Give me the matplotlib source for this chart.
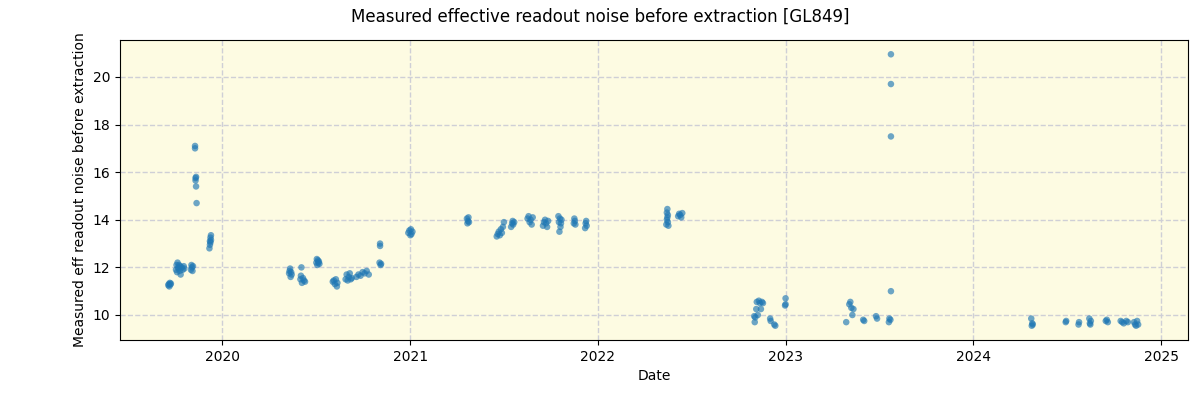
import matplotlib
matplotlib.use("Agg")
import matplotlib.pyplot as plt
import matplotlib.dates as mdates
import pandas as pd

dates = [
    # 2019
    "2019-09-18", "2019-09-19", "2019-09-20", "2019-09-21", "2019-09-22", "2019-09-23",
    "2019-10-03", "2019-10-04", "2019-10-05", "2019-10-06", "2019-10-07", "2019-10-08", "2019-10-09",
    "2019-10-10", "2019-10-11", "2019-10-12", "2019-10-14", "2019-10-16", "2019-10-18", "2019-10-19",
    "2019-11-01", "2019-11-02", "2019-11-03", "2019-11-04", "2019-11-05",
    "2019-11-09", "2019-11-09", "2019-11-10", "2019-11-10", "2019-11-11", "2019-11-11", "2019-11-12",
    "2019-12-07", "2019-12-08", "2019-12-08", "2019-12-09", "2019-12-09", "2019-12-10", "2019-12-10",
    # 2020
    "2020-05-10", "2020-05-11", "2020-05-12", "2020-05-13", "2020-05-14", "2020-05-15",
    "2020-06-01", "2020-06-02", "2020-06-03", "2020-06-04", "2020-06-06", "2020-06-08", "2020-06-10",
    "2020-07-02", "2020-07-03", "2020-07-04", "2020-07-05", "2020-07-06", "2020-07-07", "2020-07-08",
    "2020-08-03", "2020-08-05", "2020-08-07", "2020-08-09", "2020-08-11", "2020-08-12",
    "2020-08-28", "2020-08-30", "2020-09-01", "2020-09-03", "2020-09-05", "2020-09-07", "2020-09-09",
    "2020-09-18", "2020-09-22", "2020-09-26", "2020-09-30", "2020-10-04", "2020-10-08", "2020-10-12",
    "2020-11-02", "2020-11-03", "2020-11-03", "2020-11-04", "2020-11-05",
    "2020-12-28", "2020-12-30", "2021-01-01", "2021-01-02", "2021-01-03", "2021-01-05",
    # 2021
    "2021-04-21", "2021-04-22", "2021-04-23", "2021-04-24", "2021-04-25",
    "2021-06-18", "2021-06-20", "2021-06-22", "2021-06-24", "2021-06-26", "2021-06-28", "2021-06-30", "2021-07-02",
    "2021-07-16", "2021-07-18", "2021-07-19", "2021-07-20", "2021-07-22",
    "2021-08-17", "2021-08-19", "2021-08-21", "2021-08-23", "2021-08-25", "2021-08-27",
    "2021-09-16", "2021-09-18", "2021-09-20", "2021-09-22", "2021-09-24", "2021-09-26",
    "2021-10-16", "2021-10-17", "2021-10-18", "2021-10-19", "2021-10-20", "2021-10-21", "2021-10-22",
    "2021-11-15", "2021-11-16", "2021-11-17", "2021-11-18",
    "2021-12-07", "2021-12-08", "2021-12-09", "2021-12-10",
    # 2022
    "2022-05-14", "2022-05-15", "2022-05-15", "2022-05-16", "2022-05-16", "2022-05-17", "2022-05-17", "2022-05-18",
    "2022-06-06", "2022-06-08", "2022-06-10", "2022-06-12", "2022-06-14",
    "2022-11-01", "2022-11-02", "2022-11-03", "2022-11-05", "2022-11-06", "2022-11-08", "2022-11-10",
    "2022-11-12", "2022-11-14", "2022-11-16", "2022-11-18",
    "2022-12-02", "2022-12-03", "2022-12-10", "2022-12-12",
    "2022-12-31", "2023-01-01", "2023-01-01",
    # 2023
    "2023-04-29", "2023-05-05", "2023-05-07", "2023-05-09", "2023-05-11", "2023-05-13",
    "2023-06-01", "2023-06-03",
    "2023-06-26", "2023-06-28",
    "2023-07-21", "2023-07-22", "2023-07-24", "2023-07-25", "2023-07-25", "2023-07-25", "2023-07-25",
    # 2024
    "2024-04-23", "2024-04-24", "2024-04-25", "2024-04-26",
    "2024-06-29", "2024-06-30",
    "2024-07-24", "2024-07-25",
    "2024-08-14", "2024-08-15", "2024-08-16", "2024-08-17",
    "2024-09-15", "2024-09-17", "2024-09-19",
    "2024-10-14", "2024-10-17", "2024-10-20", "2024-10-25", "2024-10-28",
    "2024-11-09", "2024-11-11", "2024-11-13", "2024-11-15", "2024-11-17",
]

values = [
    # 2019
    11.25, 11.3, 11.2, 11.35, 11.28, 11.32,
    11.9, 12.1, 11.8, 12.2, 12.0, 11.95, 12.1,
    11.85, 12.05, 11.7, 12.0, 11.9, 12.05, 11.95,
    11.9, 12.1, 12.0, 11.85, 12.05,
    17.1, 17.0, 15.75, 15.65, 15.8, 15.4, 14.7,
    12.8, 12.95, 13.1, 13.05, 13.25, 13.35, 13.15,
    # 2020
    11.75, 11.85, 11.95, 11.6, 11.8, 11.7,
    11.5, 11.65, 12.0, 11.35, 11.55, 11.45, 11.4,
    12.2, 12.35, 12.1, 12.3, 12.2, 12.25, 12.15,
    11.4, 11.45, 11.3, 11.5, 11.2, 11.35,
    11.5, 11.7, 11.45, 11.6, 11.75, 11.5, 11.55,
    11.6, 11.7, 11.65, 11.8, 11.75, 11.85, 11.7,
    12.2, 12.9, 13.0, 12.1, 12.15,
    13.45, 13.55, 13.35, 13.6, 13.4, 13.5,
    # 2021
    14.05, 13.85, 13.95, 14.1, 13.9,
    13.3, 13.4, 13.5, 13.35, 13.6, 13.45, 13.7, 13.9,
    13.7, 13.85, 13.95, 13.8, 13.9,
    14.05, 14.15, 13.9, 14.0, 13.8, 14.1,
    13.75, 13.9, 14.0, 13.85, 13.7, 13.95,
    14.15, 13.9, 13.5, 14.05, 13.7, 13.85, 14.0,
    13.85, 14.05, 13.95, 13.8,
    13.65, 13.85, 13.95, 13.75,
    # 2022
    13.8, 14.0, 14.3, 14.45, 14.1, 13.9, 14.2, 13.75,
    14.15, 14.25, 14.2, 14.1, 14.28,
    9.95, 9.7, 9.9, 10.25, 10.55, 10.0, 10.6,
    10.5, 10.25, 10.55, 10.5,
    9.85, 9.75, 9.6, 9.55,
    10.4, 10.7, 10.45,
    # 2023
    9.7, 10.45, 10.55, 10.3, 10.0, 10.25,
    9.8, 9.75,
    9.95, 9.85,
    9.7, 9.85, 9.8, 11.0, 17.5, 19.7, 20.95,
    # 2024
    9.85, 9.55, 9.65, 9.6,
    9.7, 9.75,
    9.6, 9.7,
    9.85, 9.65, 9.6, 9.75,
    9.75, 9.8, 9.7,
    9.75, 9.7, 9.65, 9.75, 9.7,
    9.7, 9.6, 9.55, 9.75, 9.6,
]

df = pd.DataFrame({"date": pd.to_datetime(dates), "value": values})

fig, ax = plt.subplots(figsize=(12, 4), dpi=100)
fig.subplots_adjust(left=0.1, right=0.99, top=0.9, bottom=0.15)
ax.set_facecolor("#fdfbe2")
ax.scatter(df["date"], df["value"], s=22, color="#1f77b4", alpha=0.65, edgecolors="none", zorder=3)
ax.grid(True, linestyle="--", color="#cfcfd6", linewidth=1, zorder=0)
ax.set_axisbelow(True)
ax.set_xlim(pd.Timestamp("2019-06-16"), pd.Timestamp("2025-02-22"))
ax.set_ylim(8.95, 21.55)
ax.set_yticks([10, 12, 14, 16, 18, 20])
ax.xaxis.set_major_locator(mdates.YearLocator())
ax.xaxis.set_major_formatter(mdates.DateFormatter("%Y"))
ax.set_xlabel("Date")
ax.set_ylabel("Measured eff readout noise before extraction")
fig.suptitle("Measured effective readout noise before extraction [GL849]")
fig.savefig("out.png")
